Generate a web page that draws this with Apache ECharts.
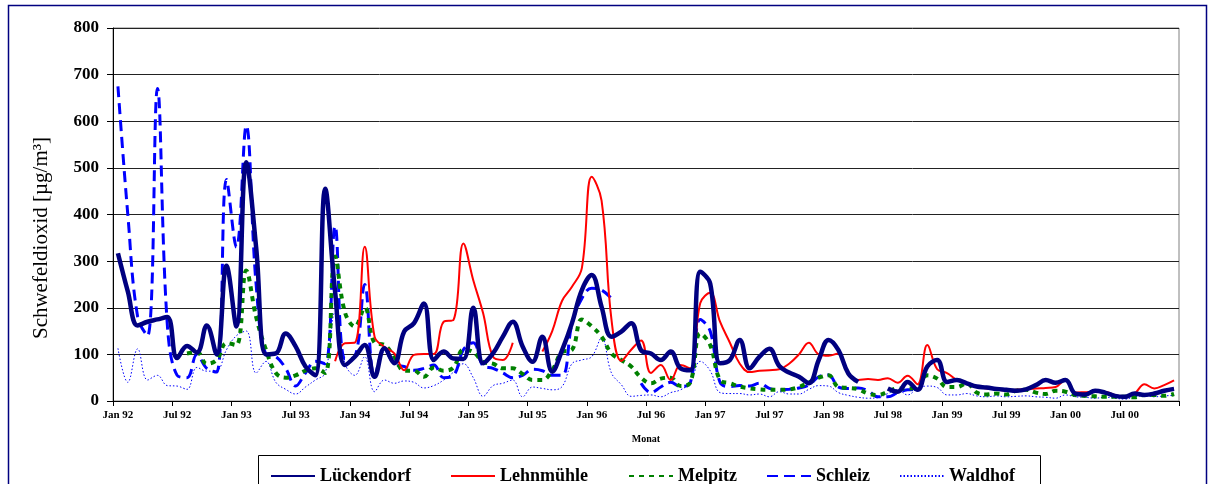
<!DOCTYPE html>
<html>
<head>
<meta charset="utf-8">
<script src="https://cdn.jsdelivr.net/npm/echarts@6/dist/echarts.min.js"></script>
<style>
html,body{margin:0;padding:0;background:#fff;}
#chart{width:1215px;height:484px;}
</style>
</head>
<body>
<div id="chart"></div>
<script>
// Month abbreviations (German) and years for the category axis
const monthNames = ['Jan','Feb','Mrz','Apr','Mai','Jun','Jul','Aug','Sep','Okt','Nov','Dez'];
const years = ['92','93','94','95','96','97','98','99','00'];
const categories = [];
years.forEach(y => monthNames.forEach(m => categories.push(m + ' ' + y)));

const seriesNames = ['Lückendorf','Lehnmühle','Melpitz','Schleiz','Waldhof'];
const yTicks = [0,100,200,300,400,500,600,700,800];

// Monthly SO2 values [µg/m³], Jan 92 .. Dez 00
const lueckendorf = [
 317,235,162,170,175,180,92,118,104,162,100,290,
 160,512,330,100,102,145,117,74,55,455,235,77,
 95,120,52,113,81,149,167,209,88,106,91,90,
 200,81,102,138,170,117,84,138,63,109,167,238,
 270,202,138,149,167,109,102,88,106,70,66,277,
 252,81,88,131,70,95,112,75,61,52,38,88,
 131,109,59,41,null,null,27,20,41,24,74,88,
 41,45,38,31,29,26,24,22,25,34,45,39,
 45,16,14,22,18,11,9,16,13,16,22,26];

const lehnmuehle = [
 null,null,null,null,null,null,null,null,null,null,null,null,
 null,null,null,null,null,null,null,null,null,null,85,124,
 125,331,138,116,102,66,99,101,101,170,174,338,
 259,188,95,88,125,null,null,106,150,215,245,285,
 481,430,175,86,110,130,60,77,45,77,70,210,
 232,170,125,80,62,65,66,68,80,100,125,100,
 97,102,60,45,47,45,49,39,54,36,120,68,
 60,45,38,30,27,25,22,24,25,27,28,30,
 45,18,19,20,20,13,9,16,36,27,34,44];

const melpitz = [
 null,null,null,null,null,null,null,102,105,80,88,124,
 120,280,180,110,60,50,55,65,70,60,310,190,
 160,200,125,120,95,65,65,52,72,65,72,110,
 105,84,80,70,70,58,45,45,66,105,110,175,
 160,138,102,88,74,50,38,48,50,32,40,145,
 120,45,38,31,27,25,24,24,25,30,40,50,
 55,30,28,25,16,13,20,27,27,30,55,48,
 30,30,38,18,14,16,14,22,24,18,15,22,
 20,13,11,10,9,9,9,8,13,13,11,15];

const schleiz = [
 675,400,180,140,670,165,55,50,100,70,62,475,
 330,590,250,100,95,70,32,60,85,80,375,90,
 95,250,52,110,80,74,66,70,77,50,55,110,
 125,75,70,60,50,55,68,65,55,55,165,220,
 242,238,220,null,null,38,18,30,40,31,40,175,
 150,40,31,33,32,38,27,24,25,28,34,52,
 56,30,27,28,22,9,9,18,24,25,null,null,
 null,null,null,null,null,null,null,null,null,null,null,null,
 null,null,null,null,null,null,null,null,null,null,null,null];

const waldhof = [
 113,40,112,45,55,33,32,25,72,64,65,110,
 140,150,60,85,40,25,15,30,45,60,190,80,
 55,95,20,45,38,43,40,28,33,45,62,80,
 50,10,33,38,45,9,30,27,24,31,80,88,
 95,135,60,35,10,12,13,9,18,24,40,85,
 65,18,16,16,13,15,9,20,15,15,25,33,
 32,18,12,8,6,7,16,24,13,27,32,29,
 13,13,16,11,9,11,9,10,11,9,8,6,
 13,9,8,6,8,6,4,9,11,9,11,12];

const seriesData = [lueckendorf, lehnmuehle, melpitz, schleiz, waldhof];
const lineStyles = [
  {color:'#000080', width:4.5, type:'solid'},
  {color:'#FF0000', width:2, type:'solid'},
  {color:'#008000', width:4, type:[5,5], cap:'butt'},
  {color:'#0000FF', width:3, type:[11,6], cap:'butt'},
  {color:'#0000FF', width:1, type:[1.5,2]}
];
const legendLefts = [265, 445, 623, 761, 894];

const serif = '"Liberation Serif","DejaVu Serif",serif';

const chart = echarts.init(document.getElementById('chart'), null, {renderer:'canvas'});

const option = {
  backgroundColor:'#fff',
  animation:false,
  grid:{left:113, top:28, width:1066, height:373, show:true, borderColor:'#808080', borderWidth:1, backgroundColor:'transparent'},
  xAxis:{
    type:'category', data:categories, boundaryGap:true,
    axisLine:{show:true, lineStyle:{color:'#000', width:1}},
    axisTick:{show:true, interval:5, length:5, lineStyle:{color:'#000'}},
    axisLabel:{interval:5, color:'#000', fontFamily:serif, fontWeight:'bold', fontSize:11, margin:9},
    name:'Monat', nameLocation:'middle', nameGap:33,
    nameTextStyle:{color:'#000', fontFamily:serif, fontWeight:'bold', fontSize:10}
  },
  yAxis:{
    type:'value', min:yTicks[0], max:yTicks[yTicks.length-1], interval:100,
    axisLine:{show:true, lineStyle:{color:'#000', width:1}},
    axisTick:{show:true, length:6, lineStyle:{color:'#000'}},
    axisLabel:{color:'#000', fontFamily:serif, fontWeight:'bold', fontSize:17, margin:14},
    splitLine:{show:true, lineStyle:{color:'#222', width:1}}
  },
  legend: seriesNames.map((n,i)=>({
    data:[n], left:legendLefts[i], top:462, itemWidth:44, itemHeight:12, itemGap:6,
    itemStyle:{opacity:0},
    textStyle:{color:'#000', fontFamily:serif, fontWeight:'bold', fontSize:18},
    selectedMode:false
  })),
  graphic:[
    {type:'rect', shape:{x:8.5, y:5.5, width:1198, height:520}, style:{fill:'none', stroke:'#000080', lineWidth:1.5}, silent:true, z:-10},
    {type:'rect', shape:{x:258.5, y:455.5, width:782, height:40}, style:{fill:'#fff', stroke:'#000', lineWidth:1}, silent:true, z:-5},
    {type:'text', x:41, y:238, rotation:Math.PI/2,
     style:{text:'Schwefeldioxid [µg/m³]', font:'21px ' + serif, fill:'#000', textAlign:'center', textVerticalAlign:'middle'}}
  ],
  series: seriesNames.map((n,i)=>({
    name:n, type:'line', data:seriesData[i], symbol:'none', smooth:0.4,
    connectNulls:false, lineStyle:lineStyles[i], itemStyle:{color:lineStyles[i].color},
    z: 10 - i
  }))
};
chart.setOption(option);
</script>
</body>
</html>
